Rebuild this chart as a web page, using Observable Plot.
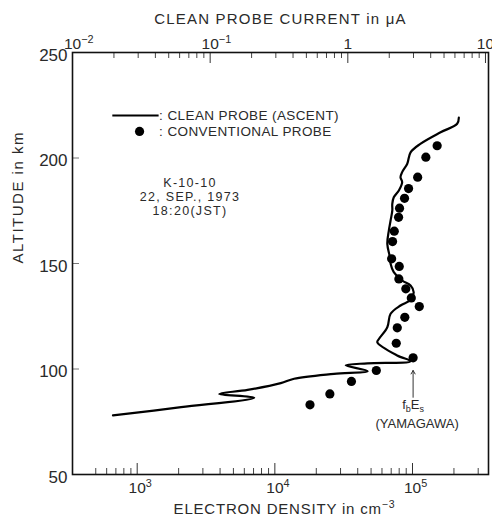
<!DOCTYPE html>
<html><head><meta charset="utf-8">
<script src="https://cdn.jsdelivr.net/npm/d3@7"></script>
<script src="https://cdn.jsdelivr.net/npm/@observablehq/plot@0.6"></script>
<style>body{margin:0;background:#fff}</style>
</head><body><div id="chart"></div>
<script>
// Clean probe (ascent) profile, in order along the trace
const cleanDensity = [667, 2085, 7080, 3945, 6340, 11040, 13800, 26900, 47200, 32700, 47000, 96800, 77400, 55500, 57000, 65600, 69300, 81800, 96800, 102000, 96800, 84100, 73100, 69300, 68500, 65600, 67300, 69300, 71300, 71300, 73100, 79600, 84100, 81800, 84100, 91600, 96800, 114000, 160000, 211000, 217000];
const cleanAltitude = [78.0, 81.9, 86.4, 88.2, 90.1, 93.3, 95.4, 97.7, 99.0, 101.7, 102.7, 103.7, 106.4, 112.7, 114.2, 119.8, 126.2, 130.1, 132.8, 136.4, 139.6, 141.9, 145.9, 149.9, 153.0, 159.3, 165.6, 170.4, 175.1, 178.3, 181.4, 184.6, 188.5, 190.9, 193.3, 197.3, 202.7, 206.7, 212.2, 216.2, 219.1];
// Conventional probe points
const convDensity = [18000, 25100, 36000, 54600, 101000, 76200, 77500, 87900, 112000, 98000, 89400, 79600, 80100, 70500, 71600, 73700, 79200, 80500, 87500, 93600, 109000, 125000, 151000];
const convAltitude = [83.0, 88.2, 94.1, 99.3, 105.3, 112.2, 119.5, 124.5, 129.6, 133.7, 138.0, 142.7, 148.6, 152.2, 160.4, 165.3, 171.9, 176.2, 180.9, 185.5, 190.9, 200.4, 205.8];

// Axes
const densityMajorTicks = [1e3, 1e4, 1e5];
const densityTickLabels = ["10³", "10⁴", "10⁵"];
const densityMinorTicks = [500, 600, 700, 800, 900, 2000, 3000, 4000, 5000, 6000, 7000, 8000, 9000, 20000, 30000, 40000, 50000, 60000, 70000, 80000, 90000, 200000, 300000];
const currentMajorTicks = [0.01, 0.1, 1, 10];
const currentTickLabels = ["10⁻²", "10⁻¹", "1", "10"];
const currentMinorTicks = [0.02, 0.03, 0.04, 0.05, 0.06, 0.07, 0.08, 0.09, 0.2, 0.3, 0.4, 0.5, 0.6, 0.7, 0.8, 0.9, 2, 3, 4, 5, 6, 7, 8, 9];
const currentToDensity = Math.pow(10, 4.53);
const altitudeTicks = [250, 200, 150, 100, 50];
const densityDomain = [Math.pow(10, 2.53), Math.pow(10, 5.552)];
const altitudeDomain = [50, 250];

// Legend and annotations (data coordinates)
const legendLineDensity = [665, 1443];
const legendLineAltitude = 220.1;
const legendDotDensity = 1040;
const legendDotAltitude = 212.6;
const legendLabels = [": CLEAN PROBE (ASCENT)", ": CONVENTIONAL PROBE"];
const legendLabelAltitudes = [220.1, 212.6];
const flightLines = ["K-10-10", "22, SEP., 1973", "18:20(JST)"];
const flightLineAltitudes = [188.2, 181.6, 175.0];
const flightLabelDensity = 2420;
const arrowDensity = 101000;
const arrowAltitudes = [86.6, 99.3];
const fbEsAltitude = 83.2;
const yamagawaDensity = 108000;
const yamagawaAltitude = 74.2;

const clean = cleanDensity.map((d, i) => ({density: d, altitude: cleanAltitude[i]}));
const conv = convDensity.map((d, i) => ({density: d, altitude: convAltitude[i]}));
const frameW = 416, frameH = 422;
const font = "Liberation Sans, Arial, Helvetica, sans-serif";
const ink = "#2a2a2a";

const chart = Plot.plot({
  width: 492, height: 523,
  marginLeft: 72, marginRight: 4, marginTop: 52, marginBottom: 49,
  x: {type: "log", domain: densityDomain, axis: null},
  y: {domain: altitudeDomain, axis: null},
  style: {fontFamily: font, background: "#fff", color: ink},
  marks: [
    // bottom ticks
    Plot.tickX(densityMajorTicks, {x: d => d, stroke: "#333", strokeWidth: 1, insetTop: frameH - 11}),
    Plot.tickX(densityMinorTicks, {x: d => d, stroke: "#444", strokeWidth: 1, insetTop: frameH - 6}),
    // top ticks
    Plot.tickX(currentMajorTicks, {x: d => d * currentToDensity, stroke: "#333", strokeWidth: 1, insetBottom: frameH - 11}),
    Plot.tickX(currentMinorTicks, {x: d => d * currentToDensity, stroke: "#444", strokeWidth: 1, insetBottom: frameH - 6}),
    // left ticks
    Plot.tickY(altitudeTicks, {y: d => d, stroke: "#777", strokeWidth: 1, insetRight: frameW - 7}),
    Plot.frame({stroke: "#111", strokeWidth: 1.6}),
    // tick labels
    Plot.text(densityMajorTicks, {x: d => d, text: (d, i) => densityTickLabels[i], frameAnchor: "bottom", dy: 18, textAnchor: "start", dx: -8.6, fontSize: 15.5, fill: ink}),
    Plot.text(currentMajorTicks.filter(d => d !== 1), {x: d => d * currentToDensity, text: d => currentTickLabels[currentMajorTicks.indexOf(d)], frameAnchor: "top", dy: -15, textAnchor: "start", dx: -8.6, fontSize: 15.5, fill: ink}),
    Plot.text(currentMajorTicks.filter(d => d === 1), {x: d => d * currentToDensity, text: d => currentTickLabels[currentMajorTicks.indexOf(d)], frameAnchor: "top", dy: -15, textAnchor: "middle", fontSize: 15.5, fill: ink}),
    Plot.text(altitudeTicks, {y: d => d, text: d => String(d), frameAnchor: "left", dx: -5, dy: 3, textAnchor: "end", fontSize: 17, fill: ink}),
    // axis titles
    Plot.text(["CLEAN PROBE CURRENT in μA"], {text: d => d, frameAnchor: "top", dy: -39, fontSize: 15, fill: ink}),
    Plot.text(["ELECTRON DENSITY in cm⁻³"], {text: d => d, frameAnchor: "bottom", dy: 39, dx: 4, fontSize: 15, fill: ink}),
    Plot.text(["ALTITUDE in km"], {text: d => d, frameAnchor: "left", dx: -54, rotate: -90, fontSize: 15, fill: ink}),
    // data
    Plot.line(clean, {x: "density", y: "altitude", curve: "catmull-rom", stroke: "#000", strokeWidth: 2.2}),
    Plot.dot(conv, {x: "density", y: "altitude", r: 4.6, fill: "#000", stroke: "none"}),
    // legend
    Plot.ruleY([legendLineAltitude], {x1: legendLineDensity[0], x2: legendLineDensity[1], stroke: "#000", strokeWidth: 2}),
    Plot.dot([legendDotDensity], {x: d => d, y: legendDotAltitude, r: 4.6, fill: "#000", stroke: "none"}),
    Plot.text(legendLabels, {x: legendLineDensity[1], y: (d, i) => legendLabelAltitudes[i], text: d => d, textAnchor: "start", fontSize: 13.5, fill: ink}),
    // annotations
    Plot.text(flightLines, {x: flightLabelDensity, y: (d, i) => flightLineAltitudes[i], text: d => d, fontSize: 12.5, fill: ink}),
    Plot.arrow([arrowDensity], {x1: d => d, x2: d => d, y1: arrowAltitudes[0], y2: arrowAltitudes[1], stroke: "#333", strokeWidth: 1, headLength: 6}),
    Plot.text(["fbEs"], {x: arrowDensity, y: fbEsAltitude, text: d => d, fontSize: 13, fill: ink}),
    Plot.text(["(YAMAGAWA)"], {x: yamagawaDensity, y: yamagawaAltitude, text: d => d, fontSize: 13, fill: ink})
  ]
});

const supMap = {"⁻": "−", "¹": "1", "²": "2", "³": "3", "⁴": "4", "⁵": "5"};
const spacing = {
  "CLEAN PROBE CURRENT in μA": "1.2px",
  "ELECTRON DENSITY in cm⁻³": "0.8px",
  "ALTITUDE in km": "1.5px",
  ": CLEAN PROBE (ASCENT)": "0.4px",
  ": CONVENTIONAL PROBE": "0.4px",
  "K-10-10": "1.3px",
  "22, SEP., 1973": "1.3px",
  "18:20(JST)": "1.3px"
};
d3.select(chart).selectAll("text").each(function() {
  const t = d3.select(this);
  const s = this.textContent;
  if (spacing[s]) t.style("letter-spacing", spacing[s]);
  if (s === "fbEs") {
    t.text("");
    t.append("tspan").text("f");
    t.append("tspan").attr("font-size", 9).attr("dy", 3).text("b");
    t.append("tspan").attr("dy", -3).text("E");
    t.append("tspan").attr("font-size", 9).attr("dy", 3).text("s");
    return;
  }
  const chars = Array.from(s);
  const k = chars.findIndex(c => c in supMap);
  if (k >= 0) {
    const base = chars.slice(0, k).join("");
    const sup = chars.slice(k).map(c => supMap[c] || c).join("");
    t.text("");
    t.append("tspan").text(base);
    t.append("tspan").attr("font-size", "70%").attr("dy", "-0.55em").text(sup);
  }
});
document.getElementById("chart").appendChild(chart);
</script>
</body></html>
